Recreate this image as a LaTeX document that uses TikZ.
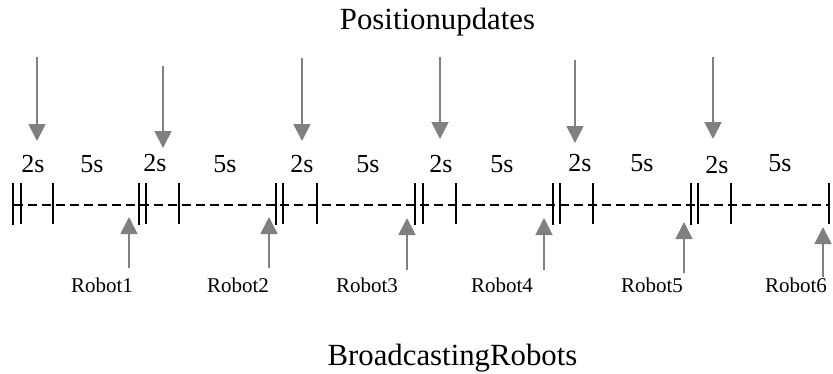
\documentclass[tikz,border=0pt]{standalone}
\usepackage{fontspec}
\setmainfont{Liberation Serif}
\usetikzlibrary{arrows.meta}
\definecolor{arrowgray}{HTML}{808080}
\begin{document}
\begin{tikzpicture}[x=1pt,y=-1pt,
  tickline/.style={line width=1.6pt, black},
  timeline/.style={line width=1.1pt, black, dash pattern=on 9pt off 5pt},
  upd/.style={draw=arrowgray, line width=1.8pt, -{Triangle[length=17pt,width=17pt]}},
  title/.style={font=\fontsize{30.8}{36}\selectfont, anchor=base, inner sep=0pt},
  dur/.style={font=\fontsize{26}{30}\selectfont, anchor=base, inner sep=0pt},
  robot/.style={font=\fontsize{21}{25}\selectfont, anchor=base, inner sep=0pt}]
\useasboundingbox (0,0) rectangle (833,373);

% titles
\node[title] (ttop) at (437.5,29) {Positionupdates};
\node[title] (tbot) at (452.5,365) {BroadcastingRobots};

% timeline
\draw[timeline] (14,205) -- (829,205);
\foreach \p/\q/\s in {13/21/53, 139/146/179, 276/283/317, 415/423/456, 553/560/593, 691/698/731} {
  \draw[tickline] (\p,183) -- (\p,225);
  \draw[tickline] (\q,183) -- (\q,224);
  \draw[tickline] (\s,183) -- (\s,224);
}
\draw[tickline] (829,183) -- (829,224);

% duration labels
\node[dur] (a1) at (33,172) {2s};
\node[dur] (b1) at (92,172) {5s};
\node[dur] (a2) at (155,171) {2s};
\node[dur] (b2) at (225,172) {5s};
\node[dur] (a3) at (302,172) {2s};
\node[dur] (b3) at (368,172) {5s};
\node[dur] (a4) at (441,172) {2s};
\node[dur] (b4) at (502,172) {5s};
\node[dur] (a5) at (580,171) {2s};
\node[dur] (b5) at (642,171) {5s};
\node[dur] (a6) at (717,173) {2s};
\node[dur] (b6) at (780,171) {5s};

% position update arrows
\coordinate (u1s) at (37,57);  \coordinate (u1e) at (37,141);
\coordinate (u2s) at (163,66); \coordinate (u2e) at (163,148);
\coordinate (u3s) at (302,58); \coordinate (u3e) at (302,141);
\coordinate (u4s) at (440,57); \coordinate (u4e) at (440,139);
\coordinate (u5s) at (575,60); \coordinate (u5e) at (575,143);
\coordinate (u6s) at (713,57); \coordinate (u6e) at (713,139);
\foreach \i in {1,...,6} { \draw[upd] (u\i s) -- (u\i e); }

% robot labels
\node[robot] (r1) at (102,292) {Robot1};
\node[robot] (r2) at (238,292) {Robot2};
\node[robot] (r3) at (367,292) {Robot3};
\node[robot] (r4) at (502,292) {Robot4};
\node[robot] (r5) at (652,292) {Robot5};
\node[robot] (r6) at (796,292) {Robot6};

% broadcast arrows
\coordinate (v1s) at (129,268); \coordinate (v1e) at (129,217);
\coordinate (v2s) at (269,268); \coordinate (v2e) at (269,217);
\coordinate (v3s) at (407,270); \coordinate (v3e) at (407,218);
\coordinate (v4s) at (544,270); \coordinate (v4e) at (544,218);
\coordinate (v5s) at (684,273); \coordinate (v5e) at (684,222);
\coordinate (v6s) at (823,277); \coordinate (v6e) at (823,227);
\foreach \i in {1,...,6} { \draw[upd] (v\i s) -- (v\i e); }
\end{tikzpicture}
\end{document}
